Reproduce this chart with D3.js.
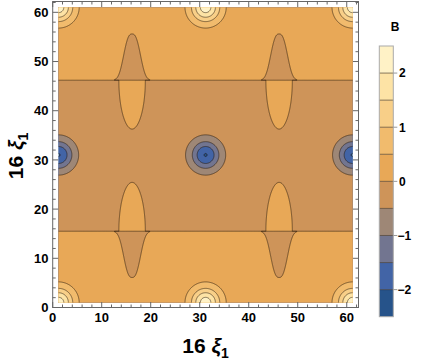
<!DOCTYPE html>
<html>
<head>
<meta charset="utf-8">
<script src="https://cdn.jsdelivr.net/npm/d3@7"></script>
<style>
    body { margin: 0; background: #fff; }
    text { font-family: "Liberation Sans", Arial, sans-serif; }
</style>
</head>
<body>
<script>
/* ========================== Data ========================= */
// contour levels and band colours, lowest band first
var levels = [-2.5, -2, -1.5, -1, -0.5, 0, 0.5, 1, 1.5, 2, 2.5];
var bandColors = ["#26538a", "#4264a6", "#727590", "#9e8776", "#ce9459",
                  "#e8a857", "#f1bb6d", "#f8cf88", "#fde3a5", "#fff2c6"];
var legendTicks = [-2, -1, 0, 1, 2];
var xTicks = [0, 10, 20, 30, 40, 50, 60];
var yTicks = [0, 10, 20, 30, 40, 50, 60];
// sampled region of the field
var dataX = [1.2, 61.2];
var dataY = [1, 61];
// plateau value on each side of the two horizontal level-0 lines
var bandLevel = 0.25;
var bandEdges = [15.5, 46.2];
var tongueDir = [-1, 1];            // which way the bell shaped tongue leaves each line
// bumps sitting on the lines
var bumpX = [16.2, 46.2];
var bumpStrength = 0.7;
var tongueLength = 9.4, tongueSpread = 2.06, tonguePower = 2.7;
var islandHeight = 9.8, islandHalfWidth = 2.7;
// bright peaks and dark wells
var peakX = [1.2, 31.2, 61.2];
var peakY = [1, 61];
var peakHeight = 2.0, peakSpread = 2.06;
var wellX = [1.2, 31.2, 61.2];
var wellY = [31];
var wellDepth = 1.77, wellSpread = 2.07;

/* ========= Constants ========= */
var w = 421;
var h = 363;
var frameColor = "#666";
var lineColor = "rgba(40,28,15,0.55)";
var step = 0.1;

/* ========= Create SVG ========= */
var svg = d3.select("body")
    .append("svg")
    .attr("width", w)
    .attr("height", h);

var xScale = d3.scaleLinear().domain([0, 62.4]).range([52.7, 358.5]);
var yScale = d3.scaleLinear().domain([0, 62.2]).range([307.5, 1.5]);
var legendScale = d3.scaleLinear().domain([-2.5, 2.5]).range([316.7, 46]);

/* ====================== Field grid ========================= */
var lnR = Math.log(bumpStrength / bandLevel);
var islandL = islandHeight / Math.sqrt(2 * lnR);
var islandS = islandHalfWidth / Math.sqrt(2 * lnR);

function fieldAt(x, y) {
    var s = -Math.tanh((y - bandEdges[0]) / 0.12) * Math.tanh((bandEdges[1] - y) / 0.12);
    var q = 0;
    bumpX.forEach(function (x0) {
        bandEdges.forEach(function (ye, k) {
            var dx = x - x0;
            var d = (y - ye) * tongueDir[k];
            if (d >= 0) {
                // bell shaped tongue: level line follows tongueLength * exp(-|dx/spread|^power)
                var reach = Math.max(tongueLength * Math.exp(-Math.pow(Math.abs(dx) / tongueSpread, tonguePower)), 1e-9);
                q += bumpStrength * Math.exp(-lnR * d / reach);
            } else {
                q += bumpStrength * Math.exp(-dx * dx / (2 * islandS * islandS)) * Math.exp(-d * d / (2 * islandL * islandL));
            }
        });
    });
    var v = s * (bandLevel - q);
    peakX.forEach(function (px) {
        peakY.forEach(function (py) {
            var r2 = (x - px) * (x - px) + (y - py) * (y - py);
            v += peakHeight * Math.exp(-r2 / (2 * peakSpread * peakSpread));
        });
    });
    wellX.forEach(function (px) {
        wellY.forEach(function (py) {
            var r2 = (x - px) * (x - px) + (y - py) * (y - py);
            v -= wellDepth * Math.exp(-r2 / (2 * wellSpread * wellSpread));
        });
    });
    return v;
}

var gx0 = dataX[0] - 0.5, gy0 = dataY[0] - 0.5;
var nx = Math.round((dataX[1] - dataX[0] + 1) / step) + 1;
var ny = Math.round((dataY[1] - dataY[0] + 1) / step) + 1;
var values = new Float64Array(nx * ny);
for (var j = 0; j < ny; j++) {
    for (var i = 0; i < nx; i++) {
        values[j * nx + i] = fieldAt(gx0 + i * step, gy0 + j * step);
    }
}

var contours = d3.contours()
    .size([nx, ny])
    .thresholds(levels.slice(0, -1))(values);

var path = d3.geoPath(d3.geoTransform({
    point: function (gx, gy) {
        this.stream.point(xScale(gx0 + (gx - 0.5) * step), yScale(gy0 + (gy - 0.5) * step));
    }
}));

/* ====================== Contour plot ========================= */
svg.append("clipPath")
    .attr("id", "plotClip")
    .append("rect")
    .attr("x", xScale(dataX[0]))
    .attr("y", yScale(dataY[1]))
    .attr("width", xScale(dataX[1]) - xScale(dataX[0]))
    .attr("height", yScale(dataY[0]) - yScale(dataY[1]));

var plot = svg.append("g").attr("clip-path", "url(#plotClip)");

plot.selectAll("path.band")
    .data(contours)
    .enter()
    .append("path")
    .attr("class", "band")
    .attr("d", path)
    .attr("fill", function (d, i) { return bandColors[i]; })
    .attr("stroke", "none");

plot.selectAll("path.line")
    .data(contours.slice(1))
    .enter()
    .append("path")
    .attr("class", "line")
    .attr("d", path)
    .attr("fill", "none")
    .attr("stroke", lineColor)
    .attr("stroke-width", 1);

/* ====================== Frame and ticks ========================= */
var x0 = xScale.range()[0], x1 = xScale.range()[1];
var y0 = yScale.range()[0], y1 = yScale.range()[1];
var minorTicks = d3.range(0, 63, 2).filter(function (v) { return v % 10 !== 0; });

svg.append("rect")
    .attr("x", x0).attr("y", y1)
    .attr("width", x1 - x0).attr("height", y0 - y1)
    .attr("fill", "none")
    .attr("stroke", frameColor)
    .attr("stroke-width", 1);

function drawTicks(list, len) {
    list.forEach(function (v) {
        var px = xScale(v), py = yScale(v);
        svg.append("line").attr("x1", px).attr("x2", px).attr("y1", y0).attr("y2", y0 - len).attr("stroke", frameColor);
        svg.append("line").attr("x1", px).attr("x2", px).attr("y1", y1).attr("y2", y1 + len).attr("stroke", frameColor);
        if (v <= 62) {
            svg.append("line").attr("y1", py).attr("y2", py).attr("x1", x0).attr("x2", x0 + len).attr("stroke", frameColor);
            svg.append("line").attr("y1", py).attr("y2", py).attr("x1", x1).attr("x2", x1 - len).attr("stroke", frameColor);
        }
    });
}
drawTicks(xTicks, 5.5);
drawTicks(minorTicks, 3);

svg.selectAll("text.xlab")
    .data(xTicks)
    .enter()
    .append("text")
    .attr("x", function (d) { return xScale(d); })
    .attr("y", 321.5)
    .attr("text-anchor", "middle")
    .attr("font-size", "13px")
    .attr("font-weight", "bold")
    .text(function (d) { return d; });

svg.selectAll("text.ylab")
    .data(yTicks)
    .enter()
    .append("text")
    .attr("x", 48.5)
    .attr("y", function (d) { return yScale(d) + 4.6; })
    .attr("text-anchor", "end")
    .attr("font-size", "13px")
    .attr("font-weight", "bold")
    .text(function (d) { return d; });

/* ====================== Axis titles ========================= */
function axisTitle(g) {
    g.attr("font-size", "21px").attr("font-weight", "bold").attr("text-anchor", "middle");
    g.append("tspan").text("16 ");
    g.append("tspan").attr("font-style", "italic").text("ξ");
    g.append("tspan").attr("font-size", "14px").attr("dy", 5).text("1");
}
axisTitle(svg.append("text").attr("x", 205.5).attr("y", 353));
axisTitle(svg.append("text").attr("transform", "translate(23,156) rotate(-90)"));

/* ====================== Legend ========================= */
var lx = 379.3, lw = 14;
var legend = svg.append("g");
legend.selectAll("rect.swatch")
    .data(bandColors)
    .enter()
    .append("rect")
    .attr("x", lx)
    .attr("y", function (d, i) { return legendScale(levels[i + 1]); })
    .attr("width", lw)
    .attr("height", function (d, i) { return legendScale(levels[i]) - legendScale(levels[i + 1]); })
    .attr("fill", function (d) { return d; });
legend.selectAll("line.sep")
    .data(levels.slice(1, -1))
    .enter()
    .append("line")
    .attr("x1", lx).attr("x2", lx + lw)
    .attr("y1", function (d) { return legendScale(d); })
    .attr("y2", function (d) { return legendScale(d); })
    .attr("stroke", lineColor);
legend.append("rect")
    .attr("x", lx).attr("y", legendScale(2.5))
    .attr("width", lw).attr("height", legendScale(-2.5) - legendScale(2.5))
    .attr("fill", "none")
    .attr("stroke", "#aaa");
legend.selectAll("line.tick")
    .data(legendTicks)
    .enter()
    .append("line")
    .attr("x1", lx + lw).attr("x2", lx + lw + 4)
    .attr("y1", function (d) { return legendScale(d); })
    .attr("y2", function (d) { return legendScale(d); })
    .attr("stroke", "#999");
legend.selectAll("text.tick")
    .data(legendTicks)
    .enter()
    .append("text")
    .attr("x", function (d) { return d < 0 ? 397.5 : 399; })
    .attr("y", function (d) { return legendScale(d) + 4.3; })
    .attr("font-size", "12px")
    .attr("font-weight", "bold")
    .text(function (d) { return d < 0 ? "−" + (-d) : d; });
legend.append("text")
    .attr("x", 395)
    .attr("y", 31)
    .attr("text-anchor", "middle")
    .attr("font-size", "12px")
    .attr("font-weight", "bold")
    .text("B");
</script>
</body>
</html>
